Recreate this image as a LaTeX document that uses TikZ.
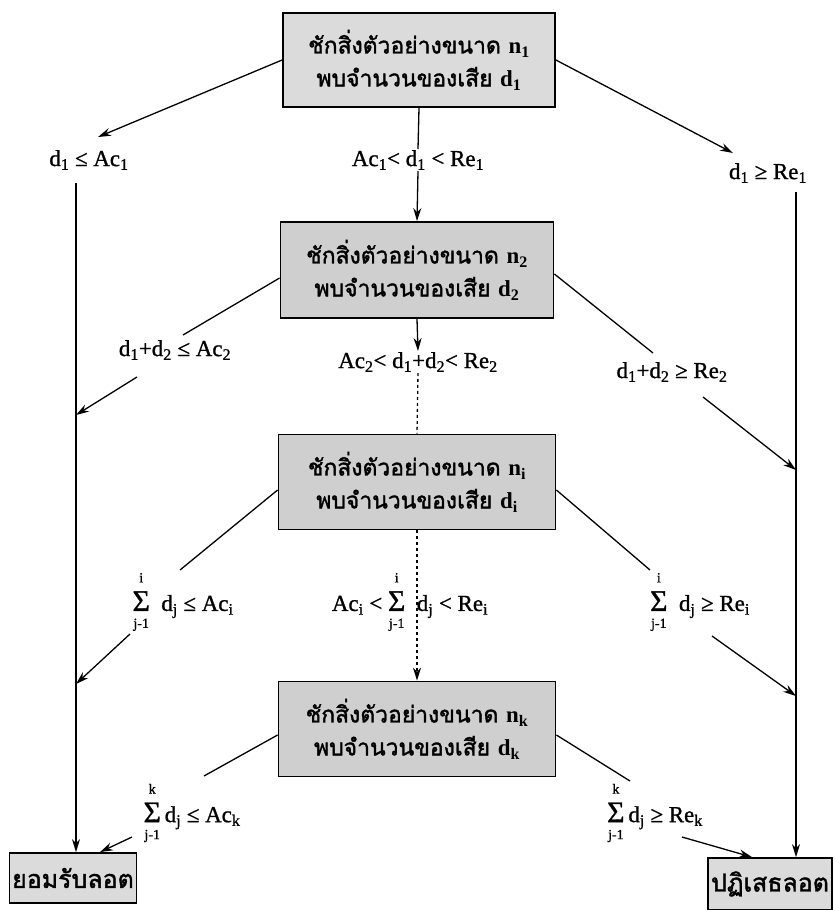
\documentclass[tikz,border=0pt]{standalone}
\usepackage{fontspec}
\setmainfont{Liberation Serif}
\newfontfamily\thaifont[Script=Thai,FakeBold=1.6]{Loma}
\newfontfamily\labfont[FakeBold=1]{Liberation Serif}
\usetikzlibrary{arrows.meta,calc}
\newcommand{\sbs}[1]{\textsubscript{#1}}
\newcommand{\limf}{\fontsize{14}{14}\selectfont}
\newcommand{\Sm}[1]{\leavevmode\hbox{\setbox0\hbox{\fontsize{30}{30}\selectfont Σ}%
  \rlap{\hbox to\wd0{\hss\raise\dimexpr\ht0+9bp\relax\hbox{\limf #1}\hss}}%
  \rlap{\hbox to\wd0{\hss\lower\dimexpr\dp0+17bp\relax\hbox{\limf j-1}\hss}}%
  \box0}}
\newcommand{\nd}[2]{{\rmfamily\bfseries #1\sbs{#2}}}
\tikzset{
  box/.style={draw, line width=1.8bp, fill=gray!28, align=center,
    font=\thaifont\fontsize{23}{33}\selectfont, inner sep=1bp},
  endbox/.style={draw, line width=1.8bp, fill=gray!28, align=center,
    font=\thaifont\fontsize{25}{28}\selectfont, inner sep=1bp},
  lab/.style={font=\labfont\fontsize{23}{26}\selectfont, inner sep=1bp},
  ln/.style={line width=1.3bp},
  arr/.style={line width=1.3bp, -{Stealth[length=13bp,width=8bp]}},
}
\begin{document}
\begin{tikzpicture}[x=1bp,y=-1bp]
\useasboundingbox (0,0) rectangle (836,910);
% boxes
\node[box, minimum width=272bp, minimum height=94bp] (b1) at (419,60)
  {ชักสิ่งตัวอย่างขนาด \nd{n}{1}\\พบจำนวนของเสีย \nd{d}{1}};
\node[box, fill=gray!38, minimum width=273bp, minimum height=96bp] (b2) at (417,270)
  {ชักสิ่งตัวอย่างขนาด \nd{n}{2}\\พบจำนวนของเสีย \nd{d}{2}};
\node[box, fill=gray!38, minimum width=277bp, minimum height=95bp] (b3) at (417,482)
  {ชักสิ่งตัวอย่างขนาด \nd{n}{i}\\พบจำนวนของเสีย \nd{d}{i}};
\node[box, fill=gray!38, minimum width=277bp, minimum height=95bp] (b4) at (417,729)
  {ชักสิ่งตัวอย่างขนาด \nd{n}{k}\\พบจำนวนของเสีย \nd{d}{k}};
\node[endbox, minimum width=127bp, minimum height=50bp] (acc) at (73,878) {ยอมรับลอต};
\node[endbox, minimum width=124bp, minimum height=52bp] (rej) at (770,884) {ปฏิเสธลอต};
% labels
\node[lab] (l1L) at (89,160) {d\sbs{1} ≤ Ac\sbs{1}};
\node[lab] (l1C) at (418,160) {Ac\sbs{1}< d\sbs{1} < Re\sbs{1}};
\node[lab] (l1R) at (768,173) {d\sbs{1} ≥ Re\sbs{1}};
\node[lab] (l2L) at (175,350) {d\sbs{1}+d\sbs{2} ≤ Ac\sbs{2}};
\node[lab] (l2C) at (418,362) {Ac\sbs{2}< d\sbs{1}+d\sbs{2}< Re\sbs{2}};
\node[lab] (l2R) at (672,372) {d\sbs{1}+d\sbs{2} ≥ Re\sbs{2}};
\node[lab] (l3L) at (183,602) {\Sm{i}\ \ d\sbs{j} ≤ Ac\sbs{i}};
\node[lab] (l3C) at (410,602) {Ac\sbs{i} < \Sm{i}\ \ d\sbs{j} < Re\sbs{i}};
\node[lab] (l3R) at (700,602) {\Sm{i}\ \ d\sbs{j} ≥ Re\sbs{i}};
\node[lab] (l4L) at (192,813) {\Sm{k}\,d\sbs{j} ≤ Ac\sbs{k}};
\node[lab] (l4R) at (655,813) {\Sm{k}\,d\sbs{j} ≥ Re\sbs{k}};
% helper coordinates
\coordinate (t1L) at (98,137);
\coordinate (t1R) at (733,153);
\coordinate (vL) at (76,183);
\coordinate (vR) at (796,192);
\coordinate (e2L) at (183,335);
\coordinate (s2L) at (137,377);
\coordinate (t2L) at (76,415);
\coordinate (e2R) at (653,353);
\coordinate (s2R) at (703,397);
\coordinate (t2R) at (796,470);
\coordinate (e3L) at (180,570);
\coordinate (s3L) at (130,634);
\coordinate (t3L) at (76,684);
\coordinate (e3R) at (650,570);
\coordinate (s3R) at (712,636);
\coordinate (t3R) at (796,696);
\coordinate (e4L) at (204,776);
\coordinate (s4L) at (132,837);
\coordinate (e4R) at (630,781);
\coordinate (s4R) at (682,837);
% row 1
\draw[arr] (b1.west) -- (t1L);
\draw[arr] (b1.east) -- (t1R);
\draw[ln] (b1.south) -- (l1C.north);
\draw[arr] (l1C.south) -- (b2.north);
\draw[arr] (vL) -- (acc.north -| vL);
\draw[arr] (vR) -- (rej.north -| vR);
% row 2
\draw[ln] ([yshift=-8bp]b2.west) -- (e2L);
\draw[arr] (s2L) -- (t2L);
\draw[ln] ([yshift=-4bp]b2.east) -- (e2R);
\draw[arr] (s2R) -- (t2R);
\draw[arr] (b2.south) -- (l2C.north);
\draw[ln, dashed] (l2C.south) -- (b3.north);
% row 3
\draw[ln] ([yshift=-8bp]b3.west) -- (e3L);
\draw[arr] (s3L) -- (t3L);
\draw[ln] ([yshift=-8bp]b3.east) -- (e3R);
\draw[arr] (s3R) -- (t3R);
\draw[arr, dashed] (b3.south) -- (b4.north);
% row 4
\draw[ln] ([yshift=-6bp]b4.west) -- (e4L);
\draw[arr] (s4L) -- (acc.north east -| 100,0);
\draw[ln] ([yshift=-6bp]b4.east) -- (e4R);
\draw[arr] (s4R) -- (rej.north west -| 752,0);
\end{tikzpicture}
\end{document}
